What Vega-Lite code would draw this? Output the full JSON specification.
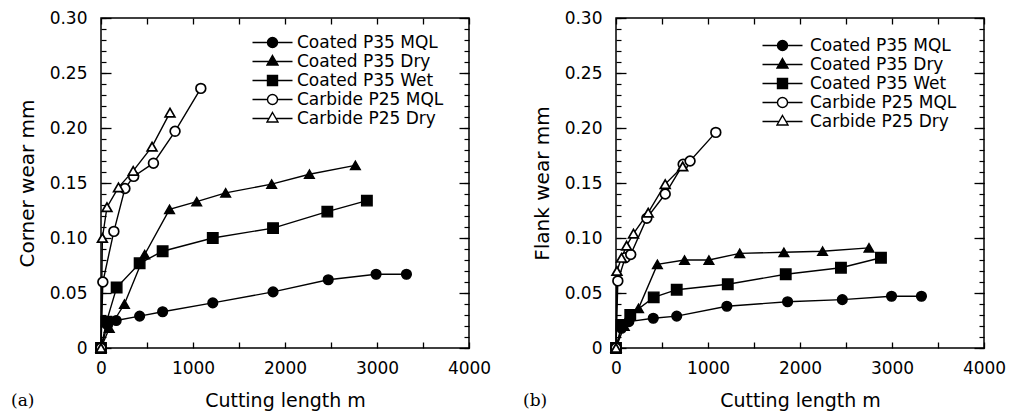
{
  "$schema": "https://vega.github.io/schema/vega-lite/v6.json",
  "background": "white",
  "padding": {"left": 10, "top": 8, "right": 3, "bottom": 3},
  "autosize": {"type": "pad"},
  "config": {"view": {"stroke": "black", "strokeWidth": 1.5}, "legend": {"symbolStrokeColor": "black", "symbolStrokeWidth": 1.4}},
  "bounds": "flush",
  "spacing": 147,
  "resolve": {"scale": {"shape": "independent", "fill": "independent"}, "legend": {"shape": "independent", "fill": "independent"}},
  "datasets": {
    "corner": [
      {"series": "Coated P35 MQL", "length": 0, "wear": 0},
      {"series": "Coated P35 MQL", "length": 70, "wear": 0.021},
      {"series": "Coated P35 MQL", "length": 165, "wear": 0.025},
      {"series": "Coated P35 MQL", "length": 420, "wear": 0.029},
      {"series": "Coated P35 MQL", "length": 670, "wear": 0.033},
      {"series": "Coated P35 MQL", "length": 1215, "wear": 0.041},
      {"series": "Coated P35 MQL", "length": 1870, "wear": 0.051},
      {"series": "Coated P35 MQL", "length": 2470, "wear": 0.062},
      {"series": "Coated P35 MQL", "length": 2990, "wear": 0.067},
      {"series": "Coated P35 MQL", "length": 3320, "wear": 0.067},
      {"series": "Coated P35 Dry", "length": 0, "wear": 0},
      {"series": "Coated P35 Dry", "length": 90, "wear": 0.018},
      {"series": "Coated P35 Dry", "length": 255, "wear": 0.04},
      {"series": "Coated P35 Dry", "length": 475, "wear": 0.085},
      {"series": "Coated P35 Dry", "length": 745, "wear": 0.126},
      {"series": "Coated P35 Dry", "length": 1040, "wear": 0.133},
      {"series": "Coated P35 Dry", "length": 1355, "wear": 0.141},
      {"series": "Coated P35 Dry", "length": 1855, "wear": 0.149},
      {"series": "Coated P35 Dry", "length": 2265, "wear": 0.158},
      {"series": "Coated P35 Dry", "length": 2765, "wear": 0.166},
      {"series": "Coated P35 Wet", "length": 0, "wear": 0},
      {"series": "Coated P35 Wet", "length": 60, "wear": 0.024},
      {"series": "Coated P35 Wet", "length": 170, "wear": 0.055},
      {"series": "Coated P35 Wet", "length": 420, "wear": 0.077},
      {"series": "Coated P35 Wet", "length": 670, "wear": 0.088},
      {"series": "Coated P35 Wet", "length": 1215, "wear": 0.1},
      {"series": "Coated P35 Wet", "length": 1870, "wear": 0.109},
      {"series": "Coated P35 Wet", "length": 2460, "wear": 0.124},
      {"series": "Coated P35 Wet", "length": 2890, "wear": 0.134},
      {"series": "Carbide P25 MQL", "length": 0, "wear": 0},
      {"series": "Carbide P25 MQL", "length": 20, "wear": 0.06},
      {"series": "Carbide P25 MQL", "length": 140, "wear": 0.106},
      {"series": "Carbide P25 MQL", "length": 260, "wear": 0.145},
      {"series": "Carbide P25 MQL", "length": 355, "wear": 0.156},
      {"series": "Carbide P25 MQL", "length": 570, "wear": 0.168},
      {"series": "Carbide P25 MQL", "length": 805, "wear": 0.197},
      {"series": "Carbide P25 MQL", "length": 1085, "wear": 0.236},
      {"series": "Carbide P25 Dry", "length": 0, "wear": 0},
      {"series": "Carbide P25 Dry", "length": 15, "wear": 0.1},
      {"series": "Carbide P25 Dry", "length": 65, "wear": 0.128},
      {"series": "Carbide P25 Dry", "length": 190, "wear": 0.146},
      {"series": "Carbide P25 Dry", "length": 350, "wear": 0.161},
      {"series": "Carbide P25 Dry", "length": 555, "wear": 0.183},
      {"series": "Carbide P25 Dry", "length": 750, "wear": 0.214}
    ],
    "flank": [
      {"series": "Coated P35 MQL", "length": 0, "wear": 0},
      {"series": "Coated P35 MQL", "length": 60, "wear": 0.018},
      {"series": "Coated P35 MQL", "length": 140, "wear": 0.024},
      {"series": "Coated P35 MQL", "length": 405, "wear": 0.027},
      {"series": "Coated P35 MQL", "length": 660, "wear": 0.029},
      {"series": "Coated P35 MQL", "length": 1205, "wear": 0.038},
      {"series": "Coated P35 MQL", "length": 1865, "wear": 0.042},
      {"series": "Coated P35 MQL", "length": 2460, "wear": 0.044},
      {"series": "Coated P35 MQL", "length": 2995, "wear": 0.047},
      {"series": "Coated P35 MQL", "length": 3320, "wear": 0.047},
      {"series": "Coated P35 Dry", "length": 0, "wear": 0},
      {"series": "Coated P35 Dry", "length": 90, "wear": 0.02},
      {"series": "Coated P35 Dry", "length": 245, "wear": 0.036},
      {"series": "Coated P35 Dry", "length": 450, "wear": 0.076},
      {"series": "Coated P35 Dry", "length": 745, "wear": 0.08},
      {"series": "Coated P35 Dry", "length": 1010, "wear": 0.08},
      {"series": "Coated P35 Dry", "length": 1345, "wear": 0.086},
      {"series": "Coated P35 Dry", "length": 1825, "wear": 0.087},
      {"series": "Coated P35 Dry", "length": 2245, "wear": 0.088},
      {"series": "Coated P35 Dry", "length": 2750, "wear": 0.091},
      {"series": "Coated P35 Wet", "length": 0, "wear": 0},
      {"series": "Coated P35 Wet", "length": 60, "wear": 0.021},
      {"series": "Coated P35 Wet", "length": 155, "wear": 0.03},
      {"series": "Coated P35 Wet", "length": 410, "wear": 0.046},
      {"series": "Coated P35 Wet", "length": 660, "wear": 0.053},
      {"series": "Coated P35 Wet", "length": 1215, "wear": 0.058},
      {"series": "Coated P35 Wet", "length": 1845, "wear": 0.067},
      {"series": "Coated P35 Wet", "length": 2445, "wear": 0.073},
      {"series": "Coated P35 Wet", "length": 2880, "wear": 0.082},
      {"series": "Carbide P25 MQL", "length": 0, "wear": 0},
      {"series": "Carbide P25 MQL", "length": 20, "wear": 0.061},
      {"series": "Carbide P25 MQL", "length": 100, "wear": 0.082},
      {"series": "Carbide P25 MQL", "length": 160, "wear": 0.085},
      {"series": "Carbide P25 MQL", "length": 335, "wear": 0.118},
      {"series": "Carbide P25 MQL", "length": 535, "wear": 0.14},
      {"series": "Carbide P25 MQL", "length": 730, "wear": 0.167},
      {"series": "Carbide P25 MQL", "length": 805, "wear": 0.17},
      {"series": "Carbide P25 MQL", "length": 1085, "wear": 0.196},
      {"series": "Carbide P25 Dry", "length": 0, "wear": 0},
      {"series": "Carbide P25 Dry", "length": 10, "wear": 0.07},
      {"series": "Carbide P25 Dry", "length": 60, "wear": 0.082},
      {"series": "Carbide P25 Dry", "length": 115, "wear": 0.093},
      {"series": "Carbide P25 Dry", "length": 190, "wear": 0.104},
      {"series": "Carbide P25 Dry", "length": 350, "wear": 0.123},
      {"series": "Carbide P25 Dry", "length": 535, "wear": 0.149},
      {"series": "Carbide P25 Dry", "length": 725, "wear": 0.165}
    ]
  },
  "hconcat": [
    {
      "width": 368,
      "height": 330,
      "data": {"name": "corner"},
      "title": {"text": "(a)", "orient": "bottom", "anchor": "start", "frame": "group", "dx": -90, "offset": -17, "font": "DejaVu Serif", "fontSize": 17, "fontWeight": "normal", "color": "black"},
      "layer": [
        {
          "mark": {"type": "line", "color": "black", "strokeWidth": 1.4},
          "encoding": {
            "x": {"field": "length", "type": "quantitative", "scale": {"domain": [0, 4000], "nice": false},
              "axis": {"orient": "bottom", "values": [0, 500, 1000, 1500, 2000, 2500, 3000, 3500, 4000], "format": "d", "labelExpr": "datum.value % 1000 === 0 ? datum.label : ''", "tickSize": -6, "tickColor": "black", "tickWidth": 1.3, "labelPadding": 18, "domain": false, "grid": false, "labelFont": "DejaVu Sans", "labelFontSize": 17, "labelColor": "black", "labelFlush": false, "labelOverlap": false, "title": "Cutting length m", "titleFont": "DejaVu Sans", "titleFontSize": 19, "titleFontWeight": "normal", "titleColor": "black", "titlePadding": 15}},
            "y": {"field": "wear", "type": "quantitative", "scale": {"domain": [0, 0.3], "nice": false},
              "axis": {"orient": "left", "values": [0, 0.05, 0.1, 0.15, 0.2, 0.25, 0.3], "labelExpr": "datum.value === 0 ? '0' : format(datum.value, '.2f')", "tickSize": -10, "tickColor": "black", "tickWidth": 1.3, "labelPadding": 24, "domain": false, "grid": false, "labelFont": "DejaVu Sans", "labelFontSize": 17, "labelColor": "black", "labelFlush": false, "labelOverlap": false, "title": "Corner wear mm", "titleFont": "DejaVu Sans", "titleFontSize": 20, "titleFontWeight": "normal", "titleColor": "black", "titlePadding": 12}},
            "detail": {"field": "series", "type": "nominal"}
          }
        },
        {
          "transform": [{"filter": {"field": "series", "equal": "Coated P35 MQL"}}],
          "mark": {"type": "point", "shape": "circle", "filled": true, "fill": "black", "size": 95, "stroke": "black", "strokeWidth": 1.4, "opacity": 1},
          "encoding": {
            "x": {"field": "length", "type": "quantitative", "scale": {"domain": [0, 4000], "nice": false},
              "axis": {"orient": "top", "values": [0, 500, 1000, 1500, 2000, 2500, 3000, 3500, 4000], "labels": false, "tickSize": -6, "tickColor": "black", "tickWidth": 1.3, "domain": false, "grid": false, "title": null}},
            "y": {"field": "wear", "type": "quantitative", "scale": {"domain": [0, 0.3], "nice": false},
              "axis": {"orient": "right", "values": [0, 0.05, 0.1, 0.15, 0.2, 0.25, 0.3], "labels": false, "tickSize": -10, "tickColor": "black", "tickWidth": 1.3, "domain": false, "grid": false, "title": null}}
          }
        },
        {
          "transform": [{"filter": {"field": "series", "equal": "Coated P35 Dry"}}],
          "mark": {"type": "point", "shape": "triangle-up", "filled": true, "fill": "black", "size": 95, "stroke": "black", "strokeWidth": 1.4, "opacity": 1},
          "encoding": {
            "x": {"field": "length", "type": "quantitative", "scale": {"domain": [0, 4000], "nice": false}, "axis": null},
            "y": {"field": "wear", "type": "quantitative", "scale": {"domain": [0, 0.3], "nice": false}, "axis": null}
          }
        },
        {
          "transform": [{"filter": {"field": "series", "equal": "Coated P35 Wet"}}],
          "mark": {"type": "point", "shape": "square", "filled": true, "fill": "black", "size": 110, "stroke": "black", "strokeWidth": 1.4, "opacity": 1},
          "encoding": {
            "x": {"field": "length", "type": "quantitative", "scale": {"domain": [0, 4000], "nice": false}, "axis": null},
            "y": {"field": "wear", "type": "quantitative", "scale": {"domain": [0, 0.3], "nice": false}, "axis": null}
          }
        },
        {
          "transform": [{"filter": {"field": "series", "equal": "Carbide P25 MQL"}}],
          "mark": {"type": "point", "shape": "circle", "filled": true, "fill": "white", "size": 95, "stroke": "black", "strokeWidth": 1.7, "opacity": 1},
          "encoding": {
            "x": {"field": "length", "type": "quantitative", "scale": {"domain": [0, 4000], "nice": false}, "axis": null},
            "y": {"field": "wear", "type": "quantitative", "scale": {"domain": [0, 0.3], "nice": false}, "axis": null}
          }
        },
        {
          "transform": [{"filter": {"field": "series", "equal": "Carbide P25 Dry"}}],
          "mark": {"type": "point", "shape": "triangle-up", "filled": true, "fill": "white", "size": 95, "stroke": "black", "strokeWidth": 1.7, "opacity": 1},
          "encoding": {
            "x": {"field": "length", "type": "quantitative", "scale": {"domain": [0, 4000], "nice": false}, "axis": null},
            "y": {"field": "wear", "type": "quantitative", "scale": {"domain": [0, 0.3], "nice": false}, "axis": null}
          }
        },
        {
          "transform": [{"filter": "datum.length < 0"}],
          "mark": {"type": "point", "filled": true, "stroke": "black", "strokeWidth": 1.4, "opacity": 1},
          "encoding": {
            "x": {"field": "length", "type": "quantitative", "scale": {"domain": [0, 4000], "nice": false}, "axis": null},
            "y": {"field": "wear", "type": "quantitative", "scale": {"domain": [0, 0.3], "nice": false},
              "axis": {"orient": "left", "values": [0, 0.01, 0.02, 0.03, 0.04, 0.05, 0.06, 0.07, 0.08, 0.09, 0.1, 0.11, 0.12, 0.13, 0.14, 0.15, 0.16, 0.17, 0.18, 0.19, 0.2, 0.21, 0.22, 0.23, 0.24, 0.25, 0.26, 0.27, 0.28, 0.29, 0.3], "labels": false, "tickSize": -5, "tickColor": "black", "tickWidth": 1.2, "domain": false, "grid": false, "title": null}},
            "shape": {"field": "series", "type": "nominal",
              "scale": {"domain": ["Coated P35 MQL", "Coated P35 Dry", "Coated P35 Wet", "Carbide P25 MQL", "Carbide P25 Dry"], "range": ["M-4,0H-1M1,0H4M1,0A1,1,0,1,1,-1,0A1,1,0,1,1,1,0Z", "M-4,0H-0.7M0.7,0H4M0,-1.2L1.1,0.7L-1.1,0.7Z", "M-4,0H-1M1,0H4M-1,-1H1V1H-1Z", "M-4,0H-1M1,0H4M1,0A1,1,0,1,1,-1,0A1,1,0,1,1,1,0Z", "M-4,0H-0.7M0.7,0H4M0,-1.2L1.1,0.7L-1.1,0.7Z"]},
              "legend": {"orient": "none", "legendX": 163, "legendY": 16, "title": null, "symbolSize": 100, "symbolStrokeColor": "black", "symbolStrokeWidth": 1.4, "symbolOpacity": 1, "labelOffset": 16, "labelFont": "DejaVu Sans", "labelFontSize": 17, "labelColor": "black", "labelLimit": 300, "rowPadding": 1.0, "padding": 0,
                "encode": {"symbols": {"update": {"stroke": {"value": "black"}, "strokeWidth": {"value": 1.4}}}}}},
            "fill": {"field": "series", "type": "nominal",
              "scale": {"domain": ["Coated P35 MQL", "Coated P35 Dry", "Coated P35 Wet", "Carbide P25 MQL", "Carbide P25 Dry"], "range": ["black", "black", "black", "white", "white"]},
              "legend": {"orient": "none", "legendX": 163, "legendY": 16, "title": null, "symbolSize": 100, "symbolStrokeColor": "black", "symbolStrokeWidth": 1.4, "symbolOpacity": 1, "labelOffset": 16, "labelFont": "DejaVu Sans", "labelFontSize": 17, "labelColor": "black", "labelLimit": 300, "rowPadding": 1.0, "padding": 0,
                "encode": {"symbols": {"update": {"stroke": {"value": "black"}, "strokeWidth": {"value": 1.4}}}}}}
          }
        },
        {
          "transform": [{"filter": "datum.length < 0"}],
          "mark": {"type": "point"},
          "encoding": {
            "x": {"field": "length", "type": "quantitative", "scale": {"domain": [0, 4000], "nice": false}, "axis": null},
            "y": {"field": "wear", "type": "quantitative", "scale": {"domain": [0, 0.3], "nice": false},
              "axis": {"orient": "right", "values": [0, 0.01, 0.02, 0.03, 0.04, 0.05, 0.06, 0.07, 0.08, 0.09, 0.1, 0.11, 0.12, 0.13, 0.14, 0.15, 0.16, 0.17, 0.18, 0.19, 0.2, 0.21, 0.22, 0.23, 0.24, 0.25, 0.26, 0.27, 0.28, 0.29, 0.3], "labels": false, "tickSize": -5, "tickColor": "black", "tickWidth": 1.2, "domain": false, "grid": false, "title": null}}
          }
        }
      ],
      "resolve": {"axis": {"x": "independent", "y": "independent"}}
    },
    {
      "width": 368,
      "height": 330,
      "data": {"name": "flank"},
      "title": {"text": "(b)", "orient": "bottom", "anchor": "start", "frame": "group", "dx": -93, "offset": -17, "font": "DejaVu Serif", "fontSize": 17, "fontWeight": "normal", "color": "black"},
      "layer": [
        {
          "mark": {"type": "line", "color": "black", "strokeWidth": 1.4},
          "encoding": {
            "x": {"field": "length", "type": "quantitative", "scale": {"domain": [0, 4000], "nice": false},
              "axis": {"orient": "bottom", "values": [0, 500, 1000, 1500, 2000, 2500, 3000, 3500, 4000], "format": "d", "labelExpr": "datum.value % 1000 === 0 ? datum.label : ''", "tickSize": -6, "tickColor": "black", "tickWidth": 1.3, "labelPadding": 18, "domain": false, "grid": false, "labelFont": "DejaVu Sans", "labelFontSize": 17, "labelColor": "black", "labelFlush": false, "labelOverlap": false, "title": "Cutting length m", "titleFont": "DejaVu Sans", "titleFontSize": 19, "titleFontWeight": "normal", "titleColor": "black", "titlePadding": 15}},
            "y": {"field": "wear", "type": "quantitative", "scale": {"domain": [0, 0.3], "nice": false},
              "axis": {"orient": "left", "values": [0, 0.05, 0.1, 0.15, 0.2, 0.25, 0.3], "labelExpr": "datum.value === 0 ? '0' : format(datum.value, '.2f')", "tickSize": -10, "tickColor": "black", "tickWidth": 1.3, "labelPadding": 24, "domain": false, "grid": false, "labelFont": "DejaVu Sans", "labelFontSize": 17, "labelColor": "black", "labelFlush": false, "labelOverlap": false, "title": "Flank wear mm", "titleFont": "DejaVu Sans", "titleFontSize": 20, "titleFontWeight": "normal", "titleColor": "black", "titlePadding": 12}},
            "detail": {"field": "series", "type": "nominal"}
          }
        },
        {
          "transform": [{"filter": {"field": "series", "equal": "Coated P35 MQL"}}],
          "mark": {"type": "point", "shape": "circle", "filled": true, "fill": "black", "size": 95, "stroke": "black", "strokeWidth": 1.4, "opacity": 1},
          "encoding": {
            "x": {"field": "length", "type": "quantitative", "scale": {"domain": [0, 4000], "nice": false},
              "axis": {"orient": "top", "values": [0, 500, 1000, 1500, 2000, 2500, 3000, 3500, 4000], "labels": false, "tickSize": -6, "tickColor": "black", "tickWidth": 1.3, "domain": false, "grid": false, "title": null}},
            "y": {"field": "wear", "type": "quantitative", "scale": {"domain": [0, 0.3], "nice": false},
              "axis": {"orient": "right", "values": [0, 0.05, 0.1, 0.15, 0.2, 0.25, 0.3], "labels": false, "tickSize": -10, "tickColor": "black", "tickWidth": 1.3, "domain": false, "grid": false, "title": null}}
          }
        },
        {
          "transform": [{"filter": {"field": "series", "equal": "Coated P35 Dry"}}],
          "mark": {"type": "point", "shape": "triangle-up", "filled": true, "fill": "black", "size": 95, "stroke": "black", "strokeWidth": 1.4, "opacity": 1},
          "encoding": {
            "x": {"field": "length", "type": "quantitative", "scale": {"domain": [0, 4000], "nice": false}, "axis": null},
            "y": {"field": "wear", "type": "quantitative", "scale": {"domain": [0, 0.3], "nice": false}, "axis": null}
          }
        },
        {
          "transform": [{"filter": {"field": "series", "equal": "Coated P35 Wet"}}],
          "mark": {"type": "point", "shape": "square", "filled": true, "fill": "black", "size": 110, "stroke": "black", "strokeWidth": 1.4, "opacity": 1},
          "encoding": {
            "x": {"field": "length", "type": "quantitative", "scale": {"domain": [0, 4000], "nice": false}, "axis": null},
            "y": {"field": "wear", "type": "quantitative", "scale": {"domain": [0, 0.3], "nice": false}, "axis": null}
          }
        },
        {
          "transform": [{"filter": {"field": "series", "equal": "Carbide P25 MQL"}}],
          "mark": {"type": "point", "shape": "circle", "filled": true, "fill": "white", "size": 95, "stroke": "black", "strokeWidth": 1.7, "opacity": 1},
          "encoding": {
            "x": {"field": "length", "type": "quantitative", "scale": {"domain": [0, 4000], "nice": false}, "axis": null},
            "y": {"field": "wear", "type": "quantitative", "scale": {"domain": [0, 0.3], "nice": false}, "axis": null}
          }
        },
        {
          "transform": [{"filter": {"field": "series", "equal": "Carbide P25 Dry"}}],
          "mark": {"type": "point", "shape": "triangle-up", "filled": true, "fill": "white", "size": 95, "stroke": "black", "strokeWidth": 1.7, "opacity": 1},
          "encoding": {
            "x": {"field": "length", "type": "quantitative", "scale": {"domain": [0, 4000], "nice": false}, "axis": null},
            "y": {"field": "wear", "type": "quantitative", "scale": {"domain": [0, 0.3], "nice": false}, "axis": null}
          }
        },
        {
          "transform": [{"filter": "datum.length < 0"}],
          "mark": {"type": "point", "filled": true, "stroke": "black", "strokeWidth": 1.4, "opacity": 1},
          "encoding": {
            "x": {"field": "length", "type": "quantitative", "scale": {"domain": [0, 4000], "nice": false}, "axis": null},
            "y": {"field": "wear", "type": "quantitative", "scale": {"domain": [0, 0.3], "nice": false},
              "axis": {"orient": "left", "values": [0, 0.01, 0.02, 0.03, 0.04, 0.05, 0.06, 0.07, 0.08, 0.09, 0.1, 0.11, 0.12, 0.13, 0.14, 0.15, 0.16, 0.17, 0.18, 0.19, 0.2, 0.21, 0.22, 0.23, 0.24, 0.25, 0.26, 0.27, 0.28, 0.29, 0.3], "labels": false, "tickSize": -5, "tickColor": "black", "tickWidth": 1.2, "domain": false, "grid": false, "title": null}},
            "shape": {"field": "series", "type": "nominal",
              "scale": {"domain": ["Coated P35 MQL", "Coated P35 Dry", "Coated P35 Wet", "Carbide P25 MQL", "Carbide P25 Dry"], "range": ["M-4,0H-1M1,0H4M1,0A1,1,0,1,1,-1,0A1,1,0,1,1,1,0Z", "M-4,0H-0.7M0.7,0H4M0,-1.2L1.1,0.7L-1.1,0.7Z", "M-4,0H-1M1,0H4M-1,-1H1V1H-1Z", "M-4,0H-1M1,0H4M1,0A1,1,0,1,1,-1,0A1,1,0,1,1,1,0Z", "M-4,0H-0.7M0.7,0H4M0,-1.2L1.1,0.7L-1.1,0.7Z"]},
              "legend": {"orient": "none", "legendX": 158, "legendY": 19, "title": null, "symbolSize": 100, "symbolStrokeColor": "black", "symbolStrokeWidth": 1.4, "symbolOpacity": 1, "labelOffset": 19, "labelFont": "DejaVu Sans", "labelFontSize": 17, "labelColor": "black", "labelLimit": 300, "rowPadding": 1.0, "padding": 0,
                "encode": {"symbols": {"update": {"stroke": {"value": "black"}, "strokeWidth": {"value": 1.4}}}}}},
            "fill": {"field": "series", "type": "nominal",
              "scale": {"domain": ["Coated P35 MQL", "Coated P35 Dry", "Coated P35 Wet", "Carbide P25 MQL", "Carbide P25 Dry"], "range": ["black", "black", "black", "white", "white"]},
              "legend": {"orient": "none", "legendX": 158, "legendY": 19, "title": null, "symbolSize": 100, "symbolStrokeColor": "black", "symbolStrokeWidth": 1.4, "symbolOpacity": 1, "labelOffset": 19, "labelFont": "DejaVu Sans", "labelFontSize": 17, "labelColor": "black", "labelLimit": 300, "rowPadding": 1.0, "padding": 0,
                "encode": {"symbols": {"update": {"stroke": {"value": "black"}, "strokeWidth": {"value": 1.4}}}}}}
          }
        },
        {
          "transform": [{"filter": "datum.length < 0"}],
          "mark": {"type": "point"},
          "encoding": {
            "x": {"field": "length", "type": "quantitative", "scale": {"domain": [0, 4000], "nice": false}, "axis": null},
            "y": {"field": "wear", "type": "quantitative", "scale": {"domain": [0, 0.3], "nice": false},
              "axis": {"orient": "right", "values": [0, 0.01, 0.02, 0.03, 0.04, 0.05, 0.06, 0.07, 0.08, 0.09, 0.1, 0.11, 0.12, 0.13, 0.14, 0.15, 0.16, 0.17, 0.18, 0.19, 0.2, 0.21, 0.22, 0.23, 0.24, 0.25, 0.26, 0.27, 0.28, 0.29, 0.3], "labels": false, "tickSize": -5, "tickColor": "black", "tickWidth": 1.2, "domain": false, "grid": false, "title": null}}
          }
        }
      ],
      "resolve": {"axis": {"x": "independent", "y": "independent"}}
    }
  ]
}
